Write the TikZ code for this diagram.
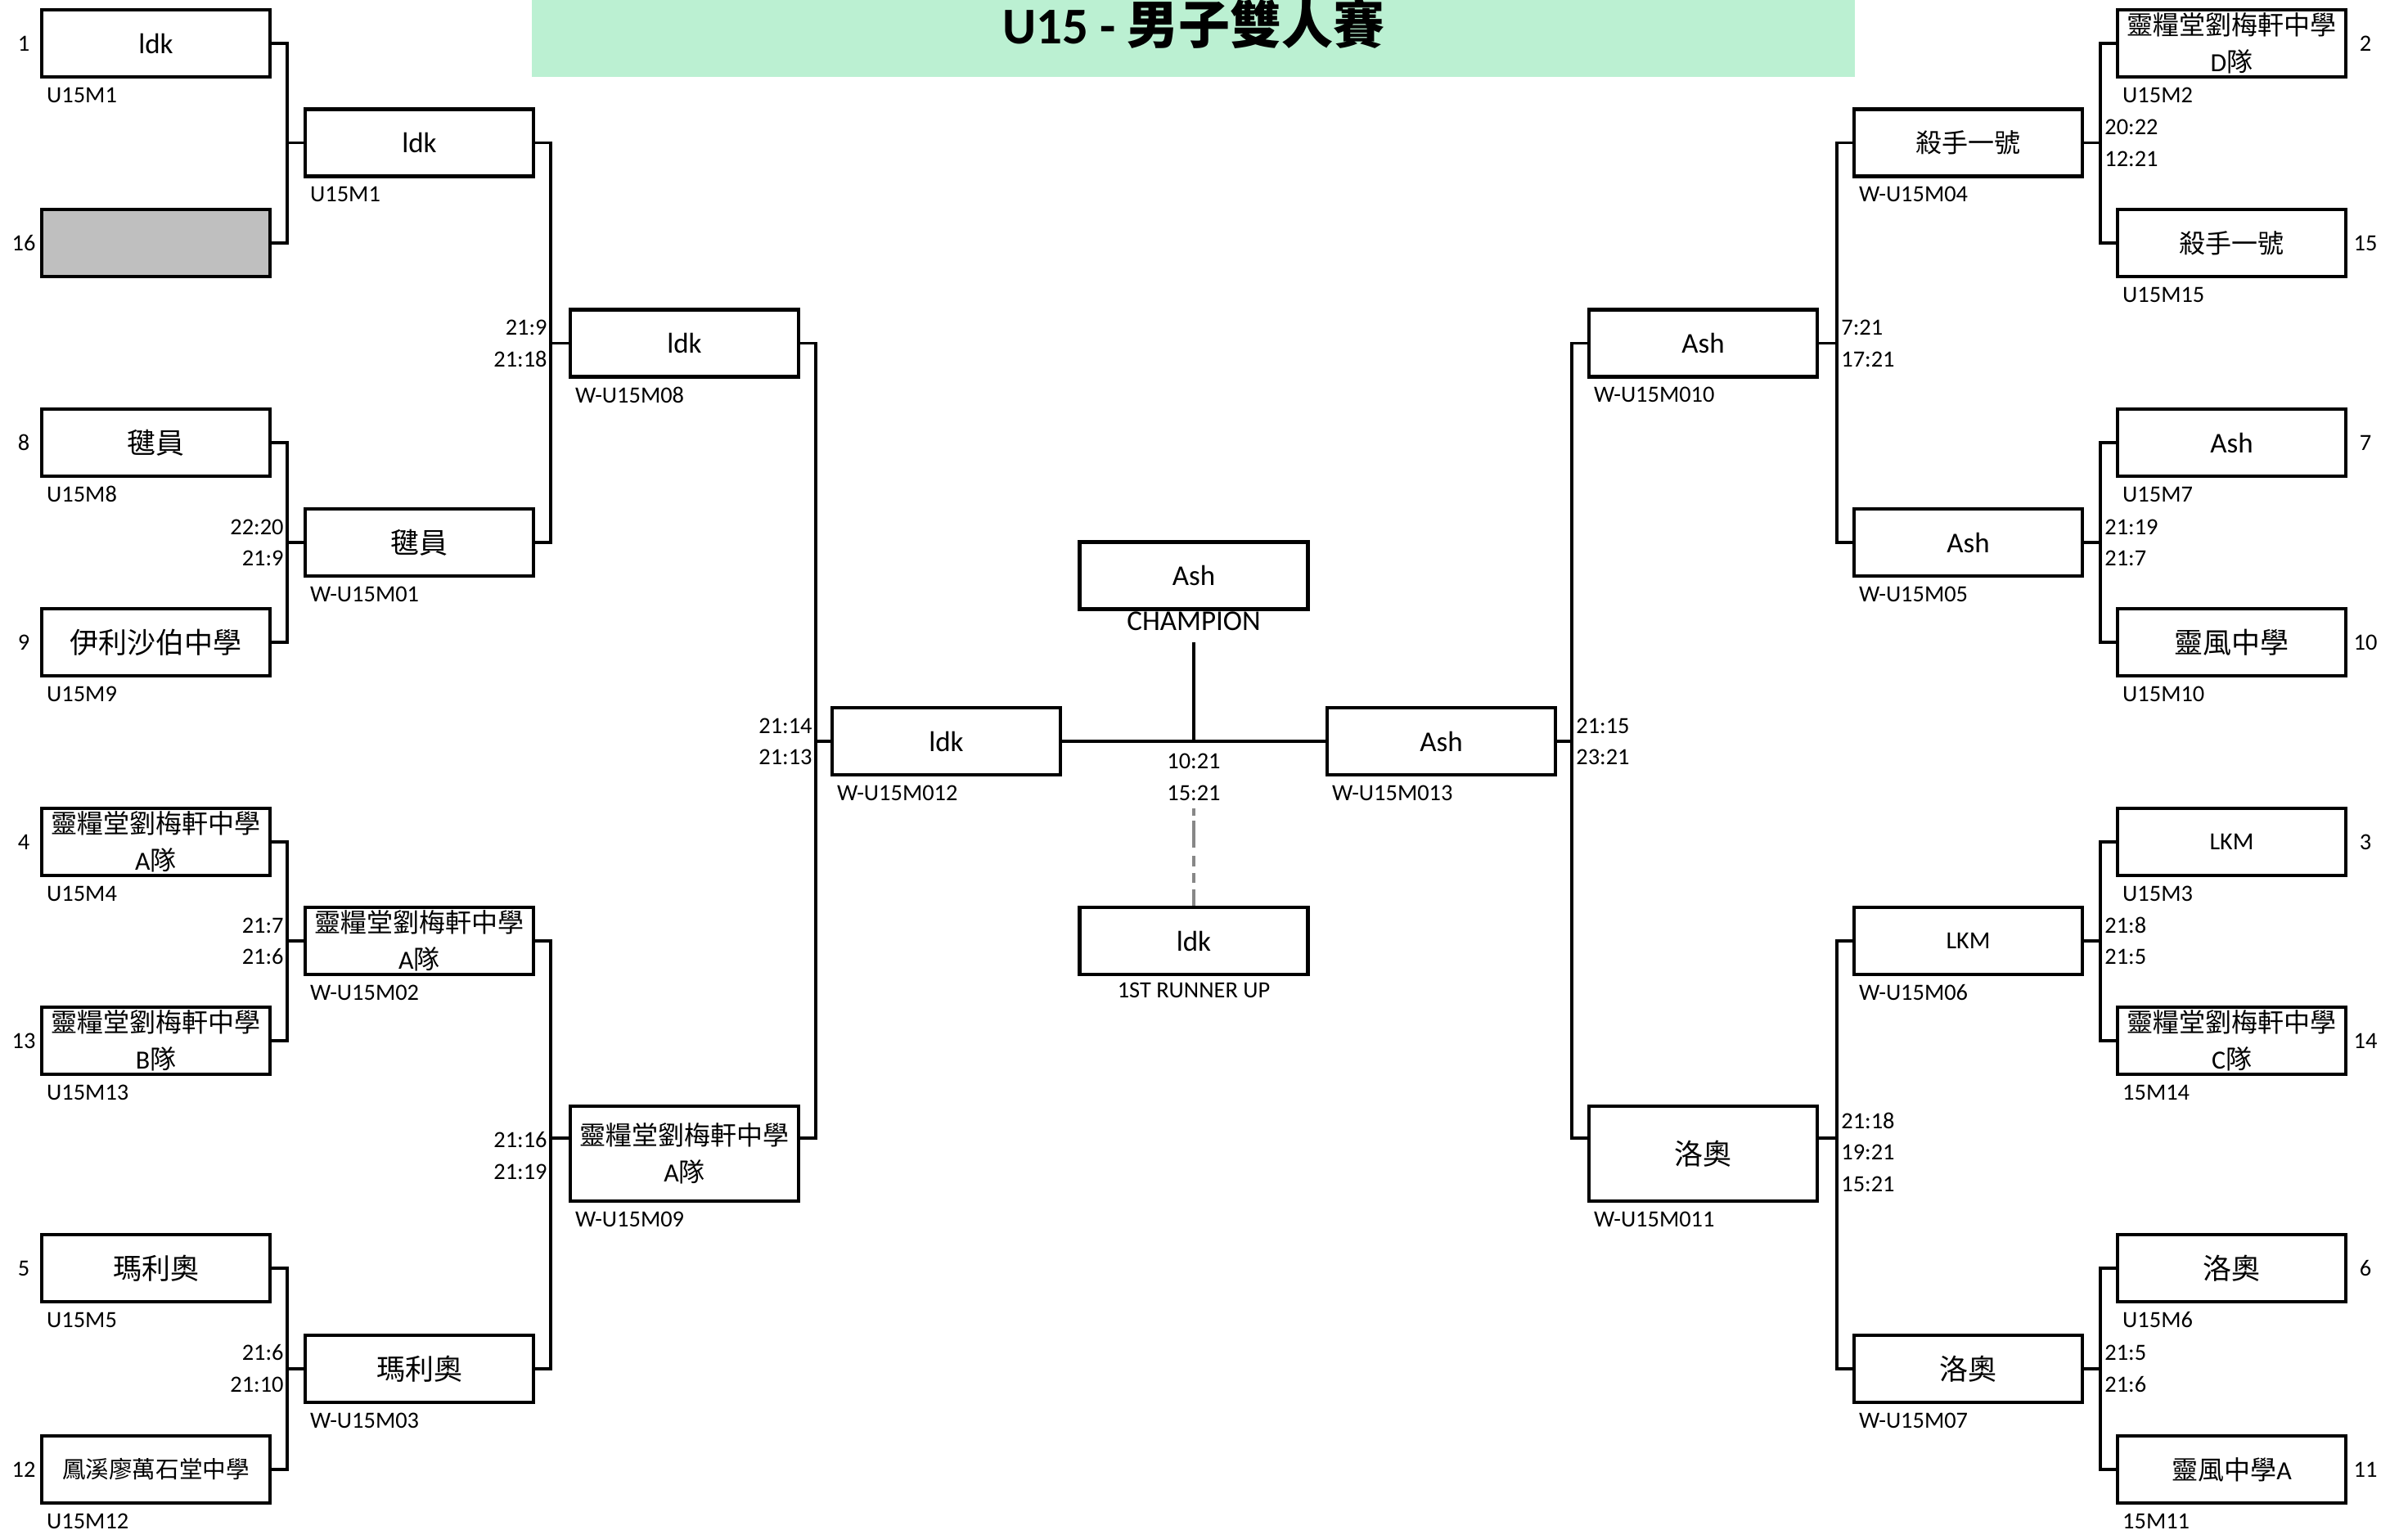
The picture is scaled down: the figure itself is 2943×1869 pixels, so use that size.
\documentclass[tikz,border=0pt]{standalone}
\usepackage{fontspec}
\setmainfont{Carlito}
\newfontfamily\cjk{Noto Sans CJK TC}
\usetikzlibrary{calc}
\definecolor{titlegreen}{RGB}{187,240,210}
\definecolor{byegray}{RGB}{191,191,191}
\definecolor{dashgray}{RGB}{135,135,135}
\begin{document}
\begin{tikzpicture}[x=0.5pt,y=-0.5pt,
  tbox/.style={draw, line width=2.2pt, minimum width=139.5pt, minimum height=41pt, inner sep=0pt, align=center, font=\fontsize{17.5}{21}\selectfont},
  tall/.style={minimum height=58pt},
  two/.style={font=\fontsize{16}{22.5}\selectfont},
  mid/.style={font=\fontsize{16}{19}\selectfont},
  lbl/.style={inner sep=0pt, font=\fontsize{14.2}{17}\selectfont},
  conn/.style={line width=1.9pt}]
\useasboundingbox (0,0) rectangle (2943,1869);
% title
\fill[titlegreen] (650,0) rectangle (2267,94);
\node[inner sep=0pt, font=\fontsize{31.5}{36}\selectfont\bfseries] (title) at (1459,29) {U15 - {\cjk 男子雙人賽}};

% ---------- left round 1
\node[tbox] (L1) at (190.5,53) {ldk};
\node[tbox, fill=byegray] (L16) at (190.5,297) {};
\node[tbox] (L8) at (190.5,541) {\cjk 毽員};
\node[tbox] (L9) at (190.5,785) {\cjk 伊利沙伯中學};
\node[tbox, two] (L4) at (190.5,1029) {{\cjk 靈糧堂劉梅軒中學}\\A{\cjk 隊}};
\node[tbox, two] (L13) at (190.5,1272) {{\cjk 靈糧堂劉梅軒中學}\\B{\cjk 隊}};
\node[tbox] (L5) at (190.5,1550) {\cjk 瑪利奧};
\node[tbox, font=\fontsize{14.3}{17}\selectfont] (L12) at (190.5,1796) {\cjk 鳳溪廖萬石堂中學};
% seeds
\node[lbl] (sL1) at (29,53) {1};
\node[lbl] (sL16) at (29,297) {16};
\node[lbl] (sL8) at (29,541) {8};
\node[lbl] (sL9) at (29,785) {9};
\node[lbl] (sL4) at (29,1029) {4};
\node[lbl] (sL13) at (29,1272) {13};
\node[lbl] (sL5) at (29,1550) {5};
\node[lbl] (sL12) at (29,1796) {12};
% labels
\node[lbl, anchor=west] (tL1) at ($(L1.south west)+(8,20)$) {U15M1};
\node[lbl, anchor=west] (tL8) at ($(L8.south west)+(8,20)$) {U15M8};
\node[lbl, anchor=west] (tL9) at ($(L9.south west)+(8,20)$) {U15M9};
\node[lbl, anchor=west] (tL4) at ($(L4.south west)+(8,20)$) {U15M4};
\node[lbl, anchor=west] (tL13) at ($(L13.south west)+(8,20)$) {U15M13};
\node[lbl, anchor=west] (tL5) at ($(L5.south west)+(8,20)$) {U15M5};
\node[lbl, anchor=west] (tL12) at ($(L12.south west)+(8,20)$) {U15M12};

% ---------- left round 2
\node[tbox] (L2a) at (512.5,174.5) {ldk};
\node[tbox] (L2b) at (512.5,663) {\cjk 毽員};
\node[tbox, two] (L2c) at (512.5,1150) {{\cjk 靈糧堂劉梅軒中學}\\A{\cjk 隊}};
\node[tbox] (L2d) at (512.5,1673) {\cjk 瑪利奧};
\node[lbl, anchor=west] (tL2a) at ($(L2a.south west)+(8,20)$) {U15M1};
\node[lbl, anchor=west] (tL2b) at ($(L2b.south west)+(8,20)$) {W-U15M01};
\node[lbl, anchor=west] (tL2c) at ($(L2c.south west)+(8,20)$) {W-U15M02};
\node[lbl, anchor=west] (tL2d) at ($(L2d.south west)+(8,20)$) {W-U15M03};

% ---------- left round 3
\node[tbox] (L3a) at (836.5,419.5) {ldk};
\node[tbox, two, tall] (L3b) at (836.5,1410) {{\cjk 靈糧堂劉梅軒中學}\\A{\cjk 隊}};
\node[lbl, anchor=west] (tL3a) at ($(L3a.south west)+(8,20)$) {W-U15M08};
\node[lbl, anchor=west] (tL3b) at ($(L3b.south west)+(8,20)$) {W-U15M09};
\coordinate (L3bw) at ($(L3b.north west)+(0,41)$);
\coordinate (L3be) at ($(L3b.north east)+(0,41)$);

% ---------- left semi
\node[tbox] (LSF) at (1156.5,906) {ldk};
\node[lbl, anchor=west] (tLSF) at ($(LSF.south west)+(8,20)$) {W-U15M012};

% ---------- centre
\node[tbox] (CH) at (1459,703.5) {Ash};
\node[lbl, font=\fontsize{17.5}{21}\selectfont] (tCH) at (1459,759) {CHAMPION};
\node[tbox] (RU) at (1459,1150) {ldk};
\node[lbl] (tRU) at (1459,1210) {1ST RUNNER UP};
\node[lbl] (fs1) at (1459,930) {10:21};
\node[lbl] (fs2) at (1459,969) {15:21};

% ---------- right semi
\node[tbox] (RSF) at (1761.5,906) {Ash};
\node[lbl, anchor=west] (tRSF) at ($(RSF.south west)+(8,20)$) {W-U15M013};

% ---------- right round 3
\node[tbox] (R3a) at (2081.5,419.5) {Ash};
\node[tbox, tall] (R3b) at (2081.5,1410) {\cjk 洛奧};
\node[lbl, anchor=west] (tR3a) at ($(R3a.south west)+(8,20)$) {W-U15M010};
\node[lbl, anchor=west] (tR3b) at ($(R3b.south west)+(8,20)$) {W-U15M011};
\coordinate (R3bw) at ($(R3b.north west)+(0,41)$);
\coordinate (R3be) at ($(R3b.north east)+(0,41)$);

% ---------- right round 2
\node[tbox, mid] (R2a) at (2405.5,174.5) {\cjk 殺手一號};
\node[tbox] (R2b) at (2405.5,663) {Ash};
\node[tbox, font=\fontsize{15}{18}\selectfont] (R2c) at (2405.5,1150) {LKM};
\node[tbox] (R2d) at (2405.5,1673) {\cjk 洛奧};
\node[lbl, anchor=west] (tR2a) at ($(R2a.south west)+(8,20)$) {W-U15M04};
\node[lbl, anchor=west] (tR2b) at ($(R2b.south west)+(8,20)$) {W-U15M05};
\node[lbl, anchor=west] (tR2c) at ($(R2c.south west)+(8,20)$) {W-U15M06};
\node[lbl, anchor=west] (tR2d) at ($(R2d.south west)+(8,20)$) {W-U15M07};

% ---------- right round 1
\node[tbox, two] (R2) at (2727.5,53) {{\cjk 靈糧堂劉梅軒中學}\\D{\cjk 隊}};
\node[tbox, mid] (R15) at (2727.5,297) {\cjk 殺手一號};
\node[tbox] (R7) at (2727.5,541) {Ash};
\node[tbox] (R10) at (2727.5,785) {\cjk 靈風中學};
\node[tbox, font=\fontsize{15}{18}\selectfont] (R3) at (2727.5,1029) {LKM};
\node[tbox, two] (R14) at (2727.5,1272) {{\cjk 靈糧堂劉梅軒中學}\\C{\cjk 隊}};
\node[tbox] (R6) at (2727.5,1550) {\cjk 洛奧};
\node[tbox, mid] (R11) at (2727.5,1796) {{\cjk 靈風中學}A};
\node[lbl] (sR2) at (2891,53) {2};
\node[lbl] (sR15) at (2891,297) {15};
\node[lbl] (sR7) at (2891,541) {7};
\node[lbl] (sR10) at (2891,785) {10};
\node[lbl] (sR3) at (2891,1029) {3};
\node[lbl] (sR14) at (2891,1272) {14};
\node[lbl] (sR6) at (2891,1550) {6};
\node[lbl] (sR11) at (2891,1796) {11};
\node[lbl, anchor=west] (tR2) at ($(R2.south west)+(8,20)$) {U15M2};
\node[lbl, anchor=west] (tR15) at ($(R15.south west)+(8,20)$) {U15M15};
\node[lbl, anchor=west] (tR7) at ($(R7.south west)+(8,20)$) {U15M7};
\node[lbl, anchor=west] (tR10) at ($(R10.south west)+(8,20)$) {U15M10};
\node[lbl, anchor=west] (tR3) at ($(R3.south west)+(8,20)$) {U15M3};
\node[lbl, anchor=west] (tR14) at ($(R14.south west)+(8,20)$) {15M14};
\node[lbl, anchor=west] (tR6) at ($(R6.south west)+(8,20)$) {U15M6};
\node[lbl, anchor=west] (tR11) at ($(R11.south west)+(8,20)$) {15M11};

% ---------- bracket lines
\coordinate (vA) at (351,0);
\coordinate (vB) at (673,0);
\coordinate (vC) at (997,0);
\coordinate (vD) at (2567,0);
\coordinate (vE) at (2245,0);
\coordinate (vF) at (1921,0);

% left
\draw[conn] (L1.east) -| (vA |- L16.east) -- (L16.east);
\draw[conn] (vA |- L2a.west) -- (L2a.west);
\draw[conn] (L8.east) -| (vA |- L9.east) -- (L9.east);
\draw[conn] (vA |- L2b.west) -- (L2b.west);
\draw[conn] (L4.east) -| (vA |- L13.east) -- (L13.east);
\draw[conn] (vA |- L2c.west) -- (L2c.west);
\draw[conn] (L5.east) -| (vA |- L12.east) -- (L12.east);
\draw[conn] (vA |- L2d.west) -- (L2d.west);
\draw[conn] (L2a.east) -| (vB |- L2b.east) -- (L2b.east);
\draw[conn] (vB |- L3a.west) -- (L3a.west);
\draw[conn] (L2c.east) -| (vB |- L2d.east) -- (L2d.east);
\draw[conn] (vB |- L3bw) -- (L3bw);
\draw[conn] (L3a.east) -| (vC |- L3be) -- (L3be);
\draw[conn] (vC |- LSF.west) -- (LSF.west);
% right
\draw[conn] (R2.west) -| (vD |- R15.west) -- (R15.west);
\draw[conn] (vD |- R2a.east) -- (R2a.east);
\draw[conn] (R7.west) -| (vD |- R10.west) -- (R10.west);
\draw[conn] (vD |- R2b.east) -- (R2b.east);
\draw[conn] (R3.west) -| (vD |- R14.west) -- (R14.west);
\draw[conn] (vD |- R2c.east) -- (R2c.east);
\draw[conn] (R6.west) -| (vD |- R11.west) -- (R11.west);
\draw[conn] (vD |- R2d.east) -- (R2d.east);
\draw[conn] (R2a.west) -| (vE |- R2b.west) -- (R2b.west);
\draw[conn] (vE |- R3a.east) -- (R3a.east);
\draw[conn] (R2c.west) -| (vE |- R2d.west) -- (R2d.west);
\draw[conn] (vE |- R3be) -- (R3be);
\draw[conn] (R3a.west) -| (vF |- R3bw) -- (R3bw);
\draw[conn] (vF |- RSF.east) -- (RSF.east);
% final
\draw[conn] (LSF.east) -- (RSF.west);
\coordinate (cTop) at (1459,785);
\draw[conn] (cTop) -- (cTop |- LSF.east);
\coordinate (dTop) at (1459,988);
\draw[dashgray, line width=1.8pt, dash pattern=on 4.5pt off 3pt on 16.5pt off 5pt on 6.5pt off 4pt on 6pt off 4pt on 30pt off 0pt] (dTop) -- (RU.north);

% ---------- scores left (right-aligned)
\node[lbl, anchor=east] (a1) at (347,644) {22:20};
\node[lbl, anchor=east] (a2) at (347,682) {21:9};
\node[lbl, anchor=east] (a3) at (347,1131) {21:7};
\node[lbl, anchor=east] (a4) at (347,1169) {21:6};
\node[lbl, anchor=east] (a5) at (347,1653) {21:6};
\node[lbl, anchor=east] (a6) at (347,1692) {21:10};
\node[lbl, anchor=east] (b1) at (669,400) {21:9};
\node[lbl, anchor=east] (b2) at (669,439) {21:18};
\node[lbl, anchor=east] (b3) at (669,1393) {21:16};
\node[lbl, anchor=east] (b4) at (669,1432) {21:19};
\node[lbl, anchor=east] (c1) at (993,887) {21:14};
\node[lbl, anchor=east] (c2) at (993,925) {21:13};
% ---------- scores right (left-aligned)
\node[lbl, anchor=west] (d1) at (2572,155) {20:22};
\node[lbl, anchor=west] (d2) at (2572,194) {12:21};
\node[lbl, anchor=west] (d3) at (2572,644) {21:19};
\node[lbl, anchor=west] (d4) at (2572,682) {21:7};
\node[lbl, anchor=west] (d5) at (2572,1131) {21:8};
\node[lbl, anchor=west] (d6) at (2572,1169) {21:5};
\node[lbl, anchor=west] (d7) at (2572,1653) {21:5};
\node[lbl, anchor=west] (d8) at (2572,1692) {21:6};
\node[lbl, anchor=west] (e1) at (2250,400) {7:21};
\node[lbl, anchor=west] (e2) at (2250,439) {17:21};
\node[lbl, anchor=west] (e3) at (2250,1370) {21:18};
\node[lbl, anchor=west] (e4) at (2250,1408) {19:21};
\node[lbl, anchor=west] (e5) at (2250,1447) {15:21};
\node[lbl, anchor=west] (f1) at (1926,887) {21:15};
\node[lbl, anchor=west] (f2) at (1926,925) {23:21};
\end{tikzpicture}
\end{document}
